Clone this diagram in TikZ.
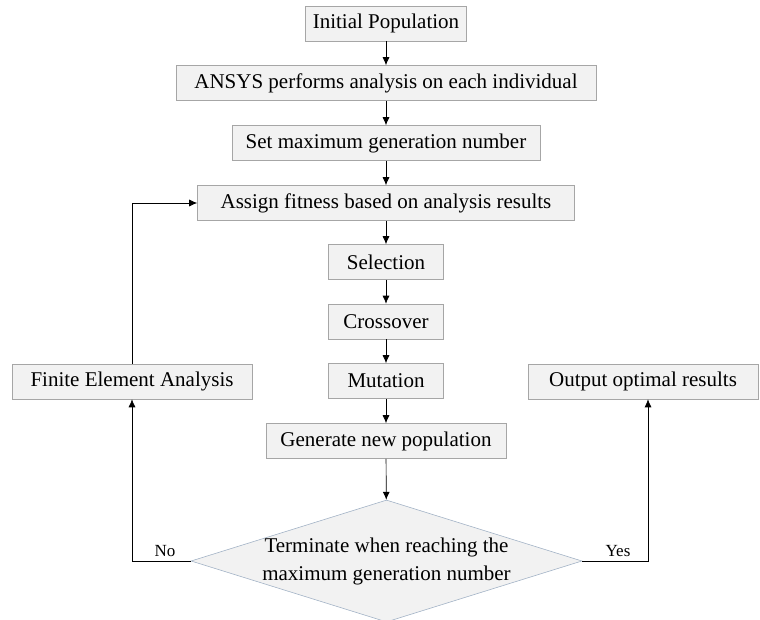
\documentclass[tikz,border=0pt]{standalone}
\usepackage{fontspec}
\setmainfont{Liberation Serif}
\usetikzlibrary{arrows.meta,shapes.geometric}
\definecolor{boxfill}{HTML}{F2F2F2}
\definecolor{boxline}{HTML}{A6A6A6}
\definecolor{diaXline}{HTML}{A3B3C6}
\begin{document}
\begin{tikzpicture}[x=1pt, y=-1pt,
	block/.style={draw=boxline, fill=boxfill, line width=0.6pt, minimum height=35pt, inner sep=0pt, font=\fontsize{21}{25}\selectfont},
	decision/.style={diamond, draw=diaXline, fill=boxfill, line width=0.6pt, minimum width=391pt, minimum height=122pt, aspect=3.2, inner sep=-4pt, align=center, font=\fontsize{21}{28}\selectfont},
	flow/.style={draw=black, line width=0.7pt, -{Latex[length=8pt,width=7pt]}},
	branch/.style={font=\fontsize{17}{19}\selectfont}]
	\useasboundingbox (0,0) rectangle (760,620);
	\node[block, minimum width=161pt] (init) at (386,23.5) {Initial Population};
	\node[block, minimum width=420pt] (ansys) at (386,83) {ANSYS performs analysis on each individual};
	\node[block, minimum width=308pt] (setmax) at (386,143) {Set maximum generation number};
	\node[block, minimum width=377pt] (assign) at (386,203) {Assign fitness based on analysis results};
	\node[block, minimum width=115pt] (sel) at (386,262) {Selection};
	\node[block, minimum width=115pt] (cross) at (386,321.5) {Crossover};
	\node[block, minimum width=115pt] (mut) at (386,381) {Mutation};
	\node[block, minimum width=240pt] (gen) at (386,441) {Generate new population};
	\node[block, minimum width=240pt] (fea) at (132,381.5) {Finite Element Analysis};
	\node[block, minimum width=230pt] (out) at (643,381.5) {Output optimal results};
	\node[decision] (term) at (386.5,561) {Terminate when reaching the\\maximum generation number};
	\node[branch, anchor=base] (no) at (165,556) {No};
	\node[branch, anchor=base] (yes) at (618,556) {Yes};
	\draw[flow] (init) -- (ansys);
	\draw[flow] (ansys) -- (setmax);
	\draw[flow] (setmax) -- (assign);
	\draw[flow] (assign) -- (sel);
	\draw[flow] (sel) -- (cross);
	\draw[flow] (cross) -- (mut);
	\draw[flow] (mut) -- (gen);
	\draw[flow] (gen) -- (term);
	\draw[flow] (term.west) -| (fea.south);
	\draw[flow] (term.east) -| ([xshift=5pt]out.south);
	\draw[flow] (fea.north) |- (assign.west);
\end{tikzpicture}
\end{document}
